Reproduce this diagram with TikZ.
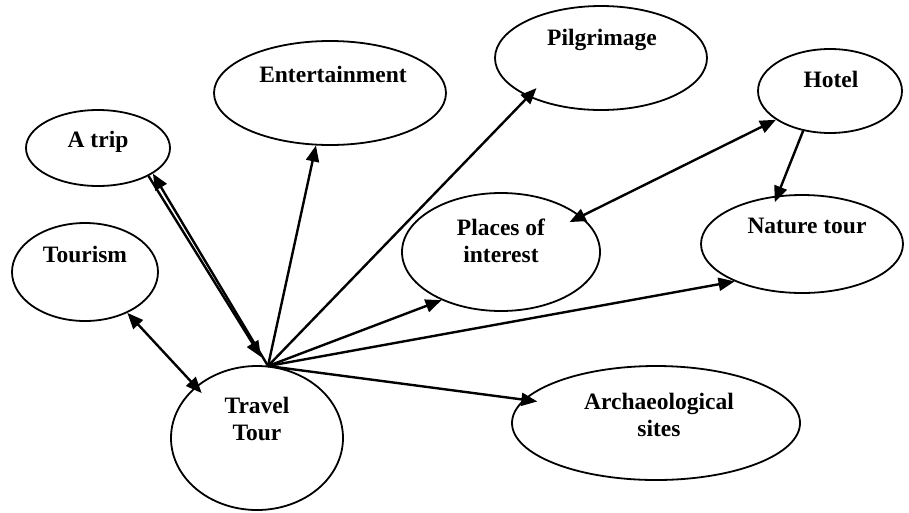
\documentclass[tikz,border=0pt]{standalone}
\usepackage{fontspec}
\setmainfont{Liberation Serif}
\usetikzlibrary{shapes.geometric,arrows.meta}
\begin{document}
\begin{tikzpicture}[x=1pt,y=-1pt,
  bubble/.style={ellipse,draw,line width=1.8pt,inner sep=0pt},
  lbl/.style={font=\fontsize{23.5}{27}\selectfont\bfseries,inner sep=0pt,align=center},
  arr/.style={-{Triangle[length=16pt,width=13pt]},line width=2.4pt},
  darr/.style={{Triangle[length=16pt,width=13pt]}-{Triangle[length=16pt,width=13pt]},line width=2.4pt}]
\useasboundingbox (0,0) rectangle (909,512);
% ellipses
\node[bubble,minimum width=144pt,minimum height=76pt]  (trip)    at (98,148)  {};
\node[bubble,minimum width=146pt,minimum height=98pt]  (tourism) at (85,272)  {};
\node[bubble,minimum width=232pt,minimum height=104pt] (ent)     at (330,93)  {};
\node[bubble,minimum width=212pt,minimum height=104pt] (pil)     at (601,58)  {};
\node[bubble,minimum width=144pt,minimum height=84pt]  (hotel)   at (830,91)  {};
\node[bubble,minimum width=198pt,minimum height=118pt] (places)  at (501,252) {};
\node[bubble,minimum width=202pt,minimum height=98pt]  (nature)  at (802,244) {};
\node[bubble,minimum width=288pt,minimum height=114pt] (arch)    at (656,423) {};
\node[bubble,minimum width=172pt,minimum height=144pt] (travel)  at (257,438) {};
% labels
\node[lbl,anchor=base] (tripT)    at (98,147)  {A trip};
\node[lbl,anchor=base] (tourismT) at (85,262)  {Tourism};
\node[lbl,anchor=base] (entT)     at (333,82)  {Entertainment};
\node[lbl,anchor=base] (pilT)     at (602,45)  {Pilgrimage};
\node[lbl,anchor=base] (hotelT)   at (831,87)  {Hotel};
\node[lbl,anchor=base] (natureT)  at (807,233) {Nature tour};
\node[lbl] (placesT) at (501,241) {Places of\\interest};
\node[lbl] (archT)   at (659,415) {Archaeological\\sites};
\node[lbl] (travelT) at (257,419) {Travel\\Tour};
% hub points
\coordinate (hub)  at (268,366);
\coordinate (hubB) at (261,357);
% connectors
\draw[arr] (hub) -- (trip.-25);
\draw[arr] (trip.-29) -- (hubB);
\draw[darr,shorten >=-9pt] (tourism.-44) -- (travel.140);
\draw[arr] (hub) -- (ent.255);
\draw[arr,shorten >=-12pt] (hub) -- (pil.208);
\draw[arr] (hub) -- (places.219);
\draw[arr] (hub) -- (nature.209);
\draw[arr,shorten >=-14pt] (hub) -- (arch.170);
\draw[darr,shorten <=-13pt] (places.24) -- (hotel.208);
\draw[arr,shorten >=-7pt] (hotel.236) -- (nature.117);
\end{tikzpicture}
\end{document}
